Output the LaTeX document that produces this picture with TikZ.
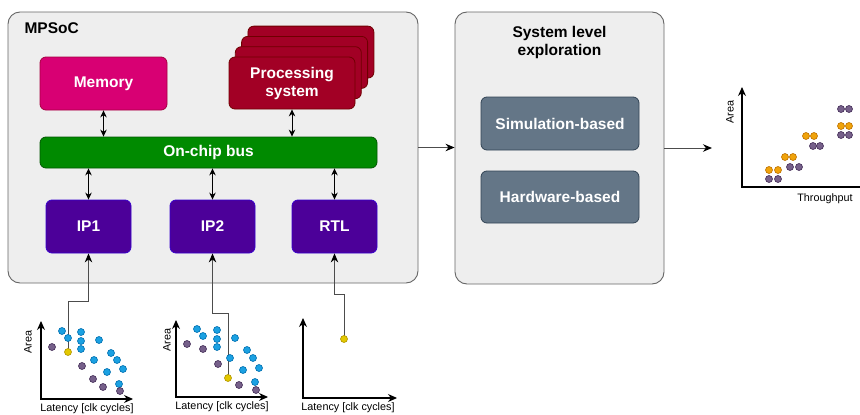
\documentclass[tikz,border=0pt]{standalone}
\usepackage{fontspec}
\setmainfont{Liberation Sans}
\usetikzlibrary{arrows.meta, positioning, calc}

\definecolor{framefill}{HTML}{EEEEEE}
\definecolor{framedraw}{HTML}{666666}
\definecolor{memfill}{HTML}{D80073}
\definecolor{memdraw}{HTML}{A50040}
\definecolor{psfill}{HTML}{A20025}
\definecolor{psdraw}{HTML}{6F0000}
\definecolor{busfill}{HTML}{008A00}
\definecolor{busdraw}{HTML}{005700}
\definecolor{ipfill}{HTML}{4C0099}
\definecolor{ipdraw}{HTML}{3700CC}
\definecolor{slatefill}{HTML}{647687}
\definecolor{slatedraw}{HTML}{314354}
\definecolor{bluefill}{HTML}{1BA1E2}
\definecolor{bluedraw}{HTML}{006EAF}
\definecolor{purplefill}{HTML}{76608A}
\definecolor{purpledraw}{HTML}{432D57}
\definecolor{yellowfill}{HTML}{E3C800}
\definecolor{yellowdraw}{HTML}{B09500}
\definecolor{orangefill}{HTML}{F0A30A}
\definecolor{orangedraw}{HTML}{BD7000}

\begin{document}
\begin{tikzpicture}[
    x=1pt, y=-1pt,
    frame/.style={draw=framedraw, fill=framefill, rounded corners=12pt, line width=0.9pt, inner sep=0pt},
    block/.style={draw, rounded corners=6pt, line width=0.8pt, text=white, inner sep=0pt,
        font=\bfseries\fontsize{15.5}{18}\selectfont, align=center},
    title/.style={font=\bfseries\fontsize{15.5}{18.5}\selectfont, align=center},
    axislabel/.style={font=\fontsize{10.8}{12}\selectfont},
    bus arrow/.style={{Stealth[length=7pt,width=6.5pt]}-{Stealth[length=7pt,width=6.5pt]}, line width=1pt},
    link/.style={-{Stealth[length=9pt,width=7.5pt,black]}, line width=1pt, draw=black!70},
    axis/.style={{Stealth[length=9pt,width=8pt]}-{Stealth[length=9pt,width=8pt]}, line width=1.1pt},
    dot/.style={circle, inner sep=0pt, minimum size=7pt, line width=0.6pt},
    bluedot/.style={dot, fill=bluefill, draw=bluedraw},
    purpledot/.style={dot, fill=purplefill, draw=purpledraw},
    yellowdot/.style={dot, fill=yellowfill, draw=yellowdraw},
    orangedot/.style={dot, fill=orangefill, draw=orangedraw}
]
    \useasboundingbox (0,0) rectangle (860,415);

    % MPSoC
    \node[frame, minimum width=410pt, minimum height=271pt] (mpsoc) at (213,147.5) {};
    \node[title, anchor=west] (mpsoclabel) at (21,28) {MPSoC};

    \node[block, fill=memfill, draw=memdraw, minimum width=127pt, minimum height=53pt] (mem) at (103.5,83.5) {Memory};
    \foreach \k in {3,2,1} {
        \node[block, fill=psfill, draw=psdraw, minimum width=126pt, minimum height=52pt] (ps\k) at ($(292,83)+\k*(6.3,-10.3)$) {};
    }
    \node[block, fill=psfill, draw=psdraw, minimum width=126pt, minimum height=52pt] (ps) at (292,83) {Processing\\system};

    \node[block, fill=busfill, draw=busdraw, minimum width=337pt, minimum height=31pt] (bus) at (208.5,152.5) {On-chip bus};

    \node[block, fill=ipfill, draw=ipdraw, minimum width=85pt, minimum height=53pt] (ip1) at (88.5,226.5) {IP1};
    \node[block, fill=ipfill, draw=ipdraw, minimum width=85pt, minimum height=53pt] (ip2) at (212.5,226.5) {IP2};
    \node[block, fill=ipfill, draw=ipdraw, minimum width=85pt, minimum height=53pt] (rtl) at (334.5,226.5) {RTL};

    \draw[bus arrow] (mem.south) -- (mem.south |- bus.north);
    \draw[bus arrow] (ps.south) -- (ps.south |- bus.north);
    \draw[bus arrow] (bus.south -| ip1.north) -- (ip1.north);
    \draw[bus arrow] (bus.south -| ip2.north) -- (ip2.north);
    \draw[bus arrow] (bus.south -| rtl.north) -- (rtl.north);

    % system level exploration
    \node[frame, minimum width=209pt, minimum height=272pt] (sle) at (559.5,148) {};
    \node[title] (slelabel) at (559.5,42.5) {System level\\exploration};
    \node[block, fill=slatefill, draw=slatedraw, minimum width=158pt, minimum height=53pt] (sim) at (560,123.5) {Simulation-based};
    \node[block, fill=slatefill, draw=slatedraw, minimum width=158pt, minimum height=52pt] (hw) at (560,197) {Hardware-based};

    \coordinate (out) at (712,148);
    \draw[link] (mpsoc.east) -- (mpsoc.east -| sle.west);
    \draw[link] (sle.east |- out) -- (out);

    % design space plots
    \draw[axis] (41,321) -- (41,399) -- (133,399);
    \draw[axis] (176,320) -- (176,397) -- (268,397);
    \draw[axis] (303,318) -- (303,398) -- (397,398);
    \node[axislabel, rotate=90] (area1) at (28,342) {Area};
    \node[axislabel, rotate=90] (area2) at (167,340) {Area};
    \node[axislabel] (lat1) at (87,409) {Latency [clk cycles]};
    \node[axislabel] (lat2) at (222,407) {Latency [clk cycles]};
    \node[axislabel] (lat3) at (348,408) {Latency [clk cycles]};

    \coordinate (y1) at (68,352);
    \coordinate (y2) at (228,378);
    \coordinate (y3) at (344,339);
    \draw[link] (y1) -- ++(0,-51) -| (ip1.south);
    \draw[link] (y2) -- ++(0,-65) -| (ip2.south);
    \draw[link] (y3) -- ++(0,-45) -| (rtl.south);

    \foreach \p in {(62,331),(68,338),(81,332),(81,341),(81,349),(99,340),(111,353),(117,360),(94,360),(123,369),(107,372),(119,384),
                    (197,329),(203,336),(217,330),(217,339),(217,347),(235,338),(247,350),(253,358),(230,358),(259,368),(243,370),(255,382)}
        \node[bluedot] at \p {};
    \foreach \p in {(52,347),(82,366),(93,379),(103,387),(120,391),
                    (187,344),(203,349),(218,364),(239,385),(256,390)}
        \node[purpledot] at \p {};
    \node[yellowdot] (best1) at (y1) {};
    \node[yellowdot] (best2) at (y2) {};
    \node[yellowdot] (best3) at (y3) {};

    % pareto plot
    \draw[axis] (742,87) -- (742,187) -- (872,187);
    \node[axislabel, rotate=90] (area4) at (730,112) {Area};
    \node[axislabel] (thr) at (825,199) {Throughput};
    \foreach \p in {(769,170),(778,170),(785,157),(793,157),(806,136),(814,136),(841,126),(849,126)}
        \node[orangedot] at \p {};
    \foreach \p in {(769,179),(778,179),(790,167),(799,167),(813,146),(820,146),(841,109),(849,109),(841,135),(849,135)}
        \node[purpledot] at \p {};
\end{tikzpicture}
\end{document}
